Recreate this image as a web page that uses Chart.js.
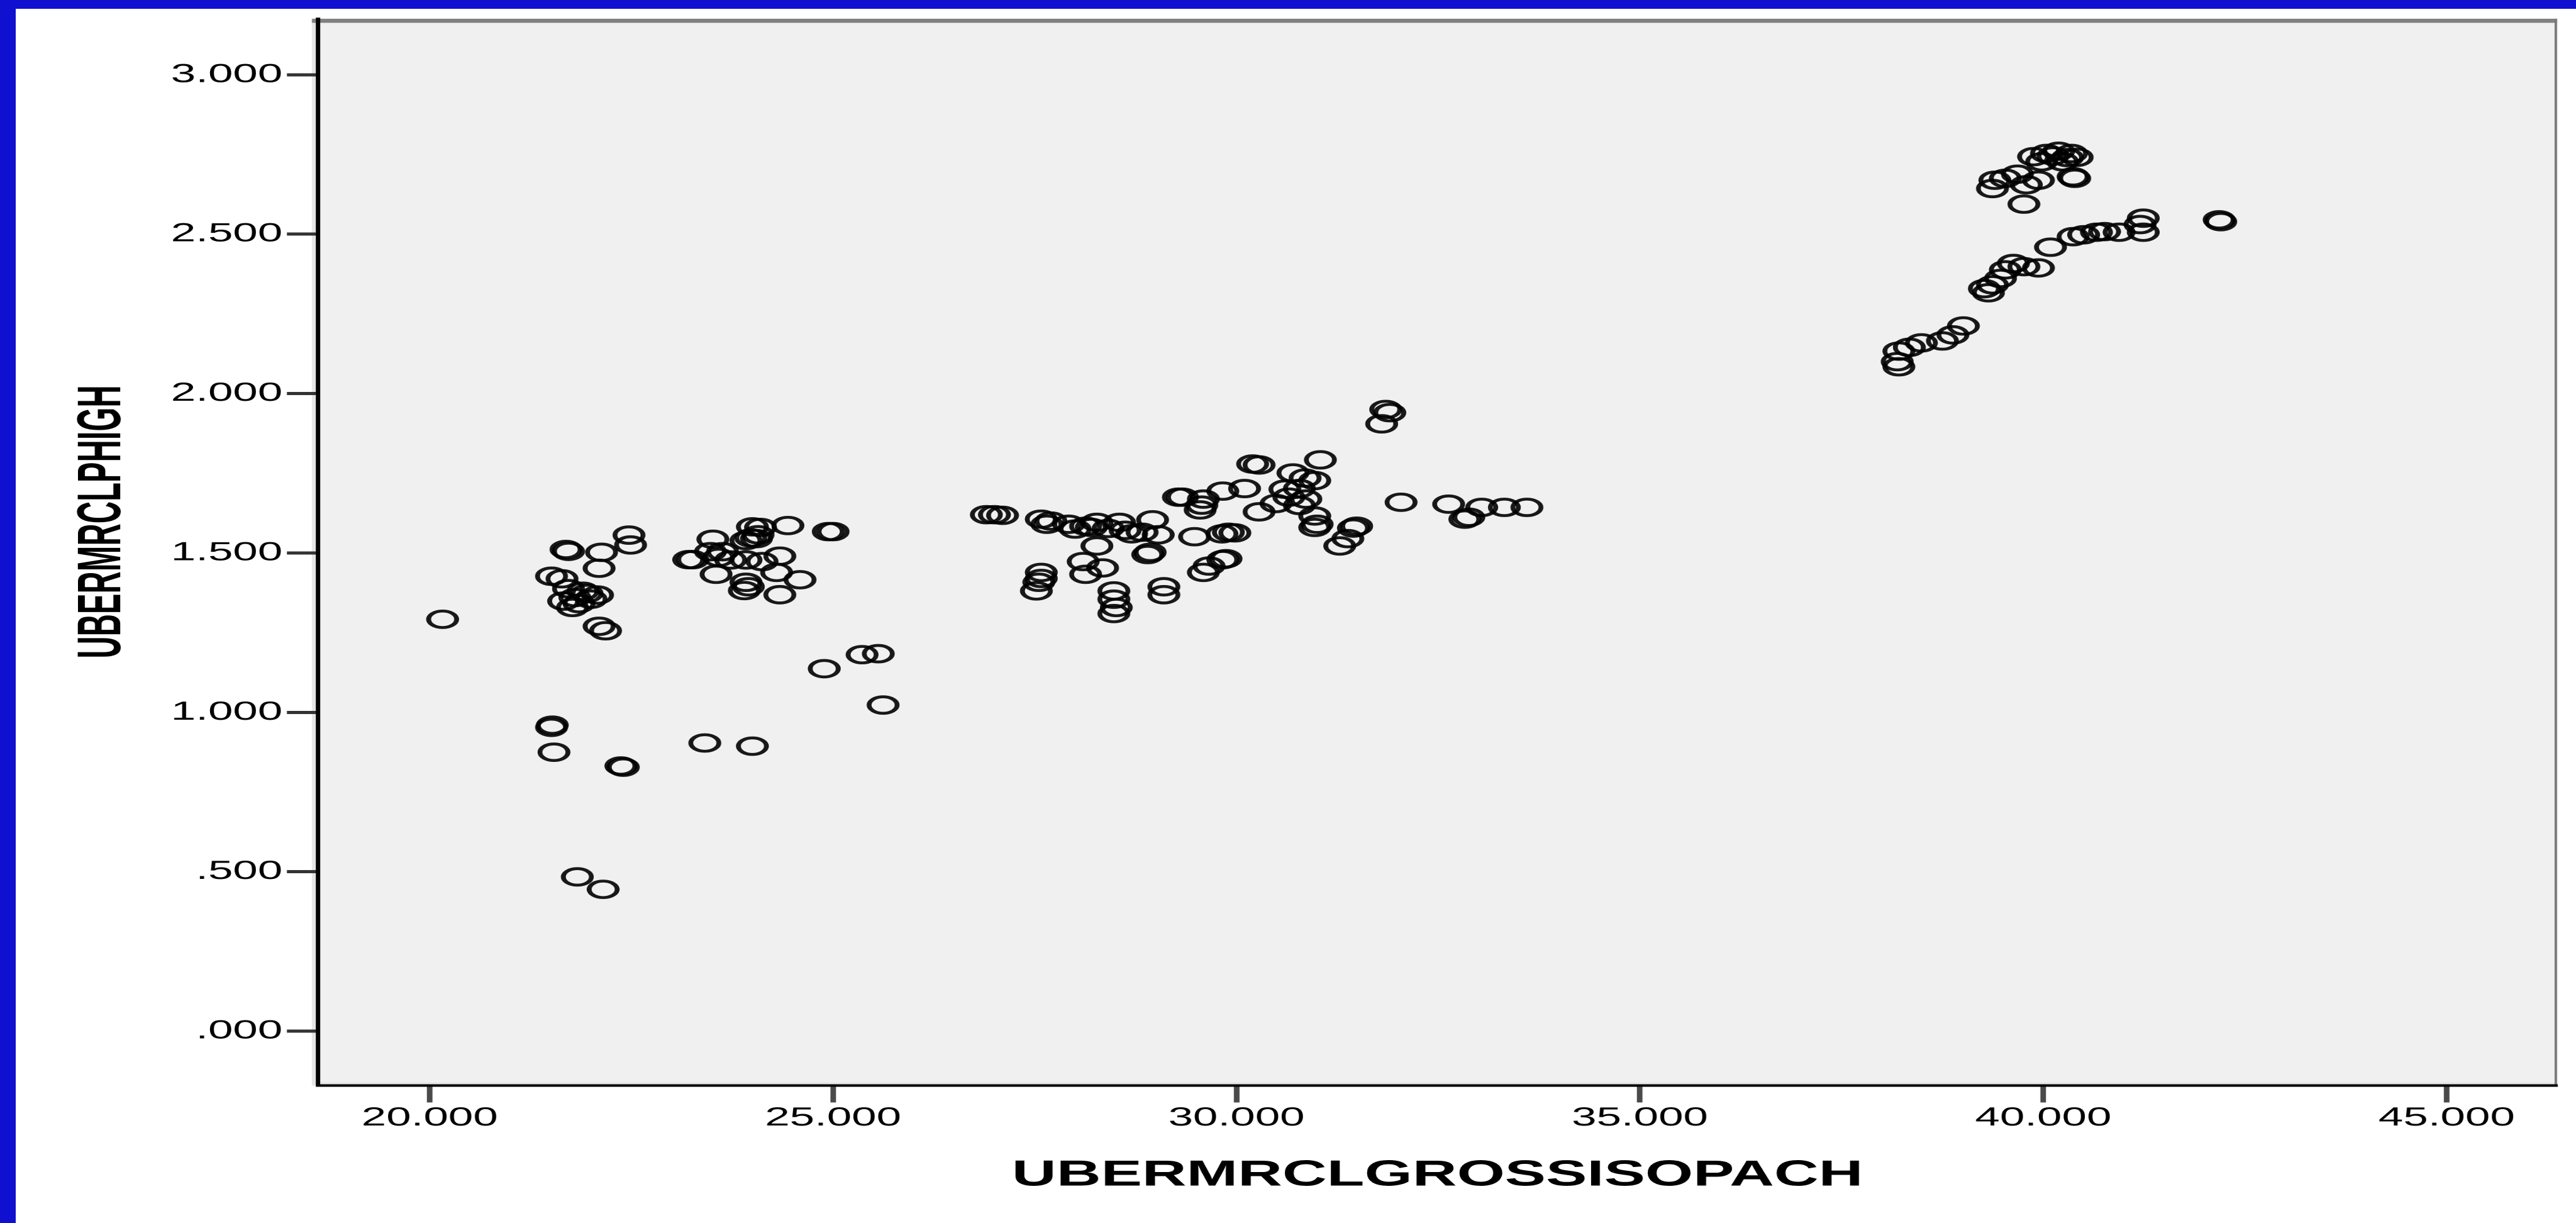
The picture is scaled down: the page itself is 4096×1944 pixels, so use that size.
<!DOCTYPE html>
<html>
<head>
<meta charset="utf-8">
<title>UBERMRCLPHIGH vs UBERMRCLGROSSISOPACH</title>
<script src="https://cdn.jsdelivr.net/npm/chart.js@4.4.1/dist/chart.umd.min.js"></script>
<style>
  html, body { margin: 0; padding: 0; background: #fff; overflow: hidden; }
  #page { position: relative; width: 4096px; height: 1944px; background: #fff; overflow: hidden; }
  #topBar { position: absolute; left: 0; top: 0; width: 4096px; height: 14px; background: #1010d0; z-index: 2; }
  #leftBar { position: absolute; left: 0; top: 0; width: 25px; height: 1944px; background: #1010d0; z-index: 2; }
  #wrap { position: absolute; left: 0; top: 0; width: 2410px; height: 1944px; transform-origin: 0 0; }
</style>
</head>
<body>
<div id="page">
  <div id="wrap"><canvas id="scatterCanvas"></canvas></div>
  <div id="topBar"></div>
  <div id="leftBar"></div>
</div>
<script>
  // the picture is stretched sideways, so the canvas is drawn narrow and widened with css
  const SCALE = 0.994;
  const CANVAS_W = 2410;
  const STRETCH = 4096 / CANVAS_W;
  const py = v => v * SCALE;
  const px = v => v * SCALE / STRETCH;

  const xTitle = 'UBERMRCLGROSSISOPACH';
  const yTitle = 'UBERMRCLPHIGH';

  const xTickValues = [20, 25, 30, 35, 40, 45];
  const xTickLabels = ['20.000', '25.000', '30.000', '35.000', '40.000', '45.000'];
  const yTickValues = [0, 0.5, 1, 1.5, 2, 2.5, 3];
  const yTickLabels = ['.000', '.500', '1.000', '1.500', '2.000', '2.500', '3.000'];
  const xRange = [18.614, 46.369];
  const yRange = [-0.1706, 3.1755];

  const grossIsopach = [
    20.16, 21.69, 21.72, 22.13, 22.47, 22.49, 22.10, 21.51, 21.64, 21.72,
    21.90, 22.08, 21.66, 21.85, 22.00, 21.77, 21.80, 21.95, 22.10, 22.18,
    21.51, 21.52, 21.54, 22.37, 22.40, 21.83, 22.15,
    23.51, 23.21, 23.48, 23.58, 23.63, 23.73, 23.92, 24.12, 24.00, 23.98,
    23.92, 24.07, 24.44, 24.94, 25.00, 24.34, 23.55, 23.92, 23.90, 23.95,
    24.30, 24.59, 24.34, 24.89, 25.36, 25.56, 25.62, 23.41, 24.00, 23.26,
    24.05, 24.10,
    26.90, 27.00, 27.10, 27.58, 27.65, 27.70, 27.92, 28.13, 28.20, 28.41,
    28.62, 28.83, 28.96, 29.03, 28.55, 28.27, 28.27, 28.10, 28.34, 27.58,
    27.55, 27.52, 27.58, 28.13, 28.48, 28.48, 28.51, 28.48, 28.93, 28.90,
    29.10, 29.10, 29.48, 29.90, 29.82, 29.98, 29.59, 29.66, 29.83, 29.87,
    29.28, 29.33, 29.59, 29.55, 29.57, 29.83, 30.10, 30.28, 30.28, 30.20,
    30.70, 31.04, 30.97, 30.78, 30.65, 30.86, 30.78, 30.49, 30.97, 31.00,
    30.97, 31.49, 31.45, 31.38, 31.28, 32.04, 32.63, 32.83, 32.88, 33.04,
    33.32, 33.60, 31.85, 31.90, 31.80, 28.00, 28.70, 30.60, 30.85,
    39.88, 40.04, 40.19, 40.35, 40.42, 39.98, 40.24, 40.12, 40.30, 40.39,
    40.37, 39.40, 39.37, 39.53, 39.68, 39.94, 39.79, 39.76, 40.09, 40.37,
    40.50, 40.66, 40.76, 40.94, 41.24, 41.24, 41.20, 42.20, 42.18, 39.63,
    39.76, 39.94, 39.53, 39.27, 39.37, 39.47, 39.32, 39.01, 38.88, 38.75,
    38.49, 38.34, 38.21, 38.19, 38.21
  ];
  const pHigh = [
    1.292, 1.511, 1.505, 1.502, 1.556, 1.525, 1.452, 1.427, 1.419, 1.388,
    1.380, 1.368, 1.349, 1.341, 1.355, 1.329, 1.360, 1.373, 1.270, 1.256,
    0.953, 0.960, 0.875, 0.832, 0.828, 0.484, 0.445,
    1.543, 1.479, 1.504, 1.486, 1.504, 1.478, 1.478, 1.473, 1.582, 1.547,
    1.539, 1.557, 1.586, 1.567, 1.567, 1.490, 1.433, 1.408, 1.382, 1.394,
    1.439, 1.416, 1.369, 1.137, 1.181, 1.184, 1.023, 0.904, 0.894, 1.479,
    1.545, 1.580,
    1.620, 1.620, 1.618, 1.606, 1.590, 1.600, 1.590, 1.584, 1.580, 1.577,
    1.571, 1.565, 1.604, 1.557, 1.596, 1.596, 1.522, 1.473, 1.453, 1.439,
    1.408, 1.381, 1.420, 1.433, 1.381, 1.355, 1.329, 1.310, 1.502, 1.495,
    1.394, 1.369, 1.551, 1.565, 1.560, 1.563, 1.439, 1.459, 1.479, 1.482,
    1.675, 1.675, 1.669, 1.635, 1.650, 1.694, 1.702, 1.629, 1.776, 1.779,
    1.751, 1.792, 1.727, 1.702, 1.675, 1.669, 1.649, 1.655, 1.616, 1.590,
    1.580, 1.584, 1.578, 1.545, 1.522, 1.659, 1.653, 1.606, 1.612, 1.643,
    1.643, 1.643, 1.950, 1.940, 1.905, 1.575, 1.560, 1.700, 1.735,
    2.743, 2.753, 2.760, 2.753, 2.741, 2.727, 2.727, 2.745, 2.740, 2.675,
    2.680, 2.669, 2.643, 2.675, 2.688, 2.669, 2.655, 2.594, 2.459, 2.492,
    2.498, 2.506, 2.508, 2.506, 2.550, 2.506, 2.530, 2.539, 2.545, 2.408,
    2.398, 2.394, 2.388, 2.329, 2.341, 2.361, 2.316, 2.212, 2.184, 2.165,
    2.159, 2.145, 2.133, 2.100, 2.084
  ];

  const FONT = '"Liberation Sans", Arial, Helvetica, sans-serif';

  document.getElementById('wrap').style.transform = 'scaleX(' + STRETCH + ')';

  // grey plot panel with its frame, and the rotated y title
  const plotFrame = {
    id: 'plotFrame',
    beforeDraw(chart) {
      const { ctx, chartArea: a } = chart;
      ctx.save();
      ctx.fillStyle = '#e4e4e4';
      ctx.fillRect(a.left - px(9.5), a.top, a.right - a.left + px(9.5), a.bottom - a.top);
      ctx.fillStyle = '#f0f0f0';
      ctx.fillRect(a.left, a.top, a.right - a.left - px(4), a.bottom - a.top - py(5));
      ctx.fillStyle = '#808080';
      ctx.fillRect(a.left - px(9.5), a.top, a.right - a.left + px(9.5), py(6.5));
      ctx.fillStyle = '#7a7a7a';
      ctx.fillRect(a.right - px(4), a.top, px(4), a.bottom - a.top);
      ctx.restore();
    },
    afterDraw(chart) {
      const ctx = chart.ctx;
      ctx.save();
      ctx.translate(px(165.5), py(834.5));
      ctx.rotate(-Math.PI / 2);
      ctx.font = 'bold ' + py(58) + 'px ' + FONT;
      ctx.fillStyle = '#000';
      ctx.textAlign = 'center';
      ctx.textBaseline = 'middle';
      ctx.fillText(yTitle, 0, 0, py(437));
      ctx.restore();
    }
  };

  const points = grossIsopach.map((x, i) => ({ x: x, y: pHigh[i] }));

  new Chart(document.getElementById('scatterCanvas'), {
    type: 'scatter',
    data: {
      datasets: [{
        label: yTitle,
        data: points,
        pointStyle: 'circle',
        pointRadius: py(13.2),
        pointBorderWidth: py(4.6),
        borderColor: 'rgba(0,0,0,0.9)',
        backgroundColor: 'rgba(0,0,0,0)',
        pointHoverRadius: py(13.2)
      }]
    },
    options: {
      responsive: true,
      maintainAspectRatio: false,
      animation: false,
      devicePixelRatio: 2,
      layout: {
        padding: {
          left: 0,
          top: py(30),
          right: CANVAS_W - px(4098),
          bottom: 1944 - py(1909)
        }
      },
      plugins: {
        legend: { display: false },
        tooltip: { enabled: false }
      },
      scales: {
        x: {
          type: 'linear',
          position: 'bottom',
          min: xRange[0],
          max: xRange[1],
          afterBuildTicks: s => { s.ticks = xTickValues.map(v => ({ value: v })); },
          afterFit: s => {
            s.height = py(173);
            s.paddingLeft = 0;
            s.paddingRight = 0;
          },
          grid: {
            drawOnChartArea: false,
            drawTicks: true,
            tickLength: py(27),
            tickWidth: px(9),
            tickColor: '#4a4a4a'
          },
          border: { display: true, color: '#000', width: py(4) },
          ticks: {
            autoSkip: false,
            maxRotation: 0,
            padding: py(4),
            color: '#000',
            font: { family: FONT, size: py(42), lineHeight: 1 },
            callback: v => xTickLabels[xTickValues.indexOf(v)]
          },
          title: {
            display: true,
            text: xTitle,
            color: '#000',
            padding: { top: 0, bottom: 0 },
            font: { family: FONT, size: py(58), weight: 'bold', lineHeight: 1 }
          }
        },
        y: {
          type: 'linear',
          position: 'left',
          min: yRange[0],
          max: yRange[1],
          afterBuildTicks: s => { s.ticks = yTickValues.map(v => ({ value: v })); },
          afterFit: s => {
            s.width = px(508.5);
            s.paddingTop = 0;
            s.paddingBottom = 0;
          },
          grid: {
            drawOnChartArea: false,
            drawTicks: true,
            tickLength: px(49.5),
            tickWidth: py(5),
            tickColor: '#333'
          },
          border: { display: true, color: '#000', width: px(7) },
          ticks: {
            autoSkip: false,
            padding: px(7),
            color: '#000',
            font: { family: FONT, size: py(42), lineHeight: 1 },
            callback: v => yTickLabels[yTickValues.indexOf(v)]
          },
          title: { display: false }
        }
      }
    },
    plugins: [plotFrame]
  });
</script>
</body>
</html>
